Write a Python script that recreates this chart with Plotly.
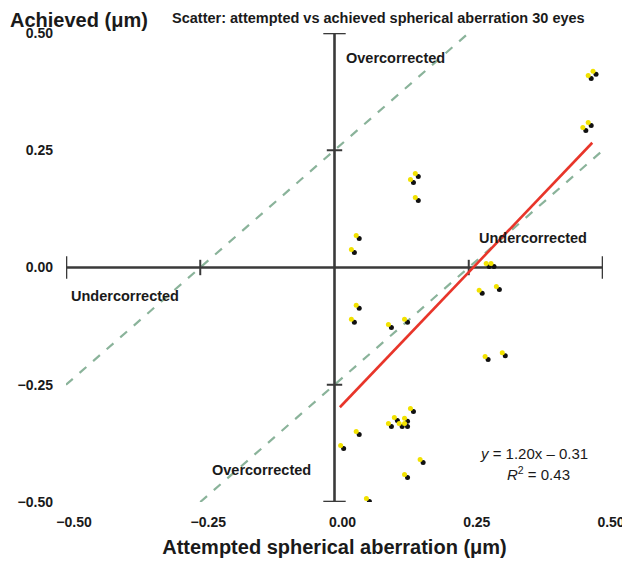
import plotly.graph_objects as go

# ---- data ----
attempted = [0.156, 0.147, 0.156, 0.046, 0.037,
             0.487, 0.478, 0.478, 0.468,
             0.288, 0.297, 0.275, 0.307,
             0.046, 0.037, 0.106, 0.136,
             0.286, 0.318, 0.147,
             0.106, 0.117, 0.126, 0.136, 0.136,
             0.046, 0.017, 0.165, 0.136, 0.065]
achieved = [0.194, 0.181, 0.143, 0.062, 0.032,
            0.412, 0.403, 0.303, 0.292,
            0.002, 0.002, -0.055, -0.047,
            -0.087, -0.117, -0.128, -0.117,
            -0.196, -0.188, -0.307,
            -0.339, -0.326, -0.339, -0.339, -0.328,
            -0.356, -0.386, -0.416, -0.448, -0.499]

fit_slope = 1.20
fit_intercept = -0.31
fit_x = [0.01, 0.48]
fit_y = [fit_slope * v + fit_intercept for v in fit_x]

upper_x = [-0.5, 0.25]          # y = x + 0.25
upper_y = [v + 0.25 for v in upper_x]
lower_x = [-0.25, 0.5]          # y = x - 0.25
lower_y = [v - 0.25 for v in lower_x]

tick_vals = [-0.5, -0.25, 0.0, 0.25, 0.5]
tick_text = ["<b>\u22120.50</b>", "<b>\u22120.25</b>", "<b>0.00</b>", "<b>0.25</b>", "<b>0.50</b>"]

FONT = "Arial, Liberation Sans, Helvetica, sans-serif"
AX = "#3a3a3a"
TXT = "#1a1a1a"

fig = go.Figure()

# dashed reference lines
for xs, ys in [(upper_x, upper_y), (lower_x, lower_y)]:
    fig.add_trace(go.Scatter(x=xs, y=ys, mode="lines",
                             line=dict(color="#8ab39a", width=2.2, dash="dash"),
                             hoverinfo="skip", showlegend=False))

# cross axes
fig.add_trace(go.Scatter(x=[0, 0], y=[-0.5, 0.5], mode="lines",
                         line=dict(color=AX, width=2.6), showlegend=False))
fig.add_trace(go.Scatter(x=[-0.5, 0.5], y=[0, 0], mode="lines",
                         line=dict(color=AX, width=2.6), showlegend=False))
# end caps / ticks
fig.add_trace(go.Scatter(x=[0, 0], y=[-0.5, 0.5], mode="markers",
                         marker=dict(symbol="line-ew", size=16, line=dict(color=AX, width=2.6)),
                         showlegend=False))
fig.add_trace(go.Scatter(x=[0, 0], y=[-0.25, 0.25], mode="markers",
                         marker=dict(symbol="line-ew", size=11, line=dict(color=AX, width=2)),
                         showlegend=False))
fig.add_trace(go.Scatter(x=[-0.5, 0.5], y=[0, 0], mode="markers",
                         marker=dict(symbol="line-ns", size=16, line=dict(color=AX, width=2.6)),
                         showlegend=False))
fig.add_trace(go.Scatter(x=[-0.25, 0.25], y=[0, 0], mode="markers",
                         marker=dict(symbol="line-ns", size=11, line=dict(color=AX, width=2)),
                         showlegend=False))

# regression line
fig.add_trace(go.Scatter(x=fit_x, y=fit_y, mode="lines",
                         line=dict(color="#e8352a", width=2.6), showlegend=False))

# yellow highlights (offset via overlaid axes)
fig.add_trace(go.Scatter(x=attempted, y=achieved, mode="markers", xaxis="x2", yaxis="y2",
                         marker=dict(color="#f2e200", size=5), showlegend=False))
# black points
fig.add_trace(go.Scatter(x=attempted, y=achieved, mode="markers",
                         marker=dict(color="#111111", size=5), showlegend=False))

dx = 3 / 537
dy = 3 / 469
ax_common = dict(showgrid=False, zeroline=False, showline=False, automargin=False)
# page body has an 8px margin, so the figure is offset by (8, 8)
fig.update_layout(
    width=630, height=563,
    margin=dict(l=58, r=35, t=25, b=69),
    paper_bgcolor="white", plot_bgcolor="white",
    font=dict(family=FONT, color=TXT),
    xaxis=dict(range=[-0.5, 0.5], tickvals=tick_vals, ticktext=tick_text,
               ticks="", tickfont=dict(size=14, family=FONT, color=TXT),
               ticklabelstandoff=10, ticklabelshift=8,
               title=dict(text="<b>Attempted spherical aberration (μm)</b>",
                          font=dict(size=20, family=FONT, color=TXT), standoff=10),
               **ax_common),
    yaxis=dict(range=[-0.5, 0.5], tickvals=tick_vals, ticktext=tick_text,
               ticks="", tickfont=dict(size=14, family=FONT, color=TXT),
               ticklabelstandoff=12, **ax_common),
    xaxis2=dict(range=[-0.5 + dx, 0.5 + dx], overlaying="x", visible=False, **ax_common),
    yaxis2=dict(range=[-0.5 - dy, 0.5 - dy], overlaying="y", visible=False, **ax_common),
    title=dict(text="<b>Scatter: attempted vs achieved spherical aberration 30 eyes</b>",
               x=164 / 630, xanchor="left", y=1 - 10 / 563, yanchor="middle",
               font=dict(size=14.5, family=FONT, color=TXT)),
)

ann = [
    ("<b>Overcorrected</b>", 0.113, 0.446),
    ("<b>Undercorrected</b>", 0.37, 0.062),
    ("<b>Undercorrected</b>", -0.39, -0.06),
    ("<b>Overcorrected</b>", -0.136, -0.431),
]
for t, x, y in ann:
    fig.add_annotation(text=t, x=x, y=y, showarrow=False,
                       font=dict(size=14.5, family=FONT, color=TXT))
fig.add_annotation(text="<i>y</i> = 1.20x \u2013 0.31", x=0.372, y=-0.397, showarrow=False,
                   font=dict(size=15, family=FONT, color=TXT))
fig.add_annotation(text="<i>R</i><sup>2</sup> = 0.43", x=0.379, y=-0.44, showarrow=False,
                   font=dict(size=15, family=FONT, color=TXT))
fig.add_annotation(text="<b>Achieved (μm)</b>", xref="paper", yref="paper",
                   x=-58 / 537, xanchor="left", y=1 + 13 / 469, yanchor="middle",
                   showarrow=False, font=dict(size=20, family=FONT, color=TXT))

fig.write_html("out.html")
